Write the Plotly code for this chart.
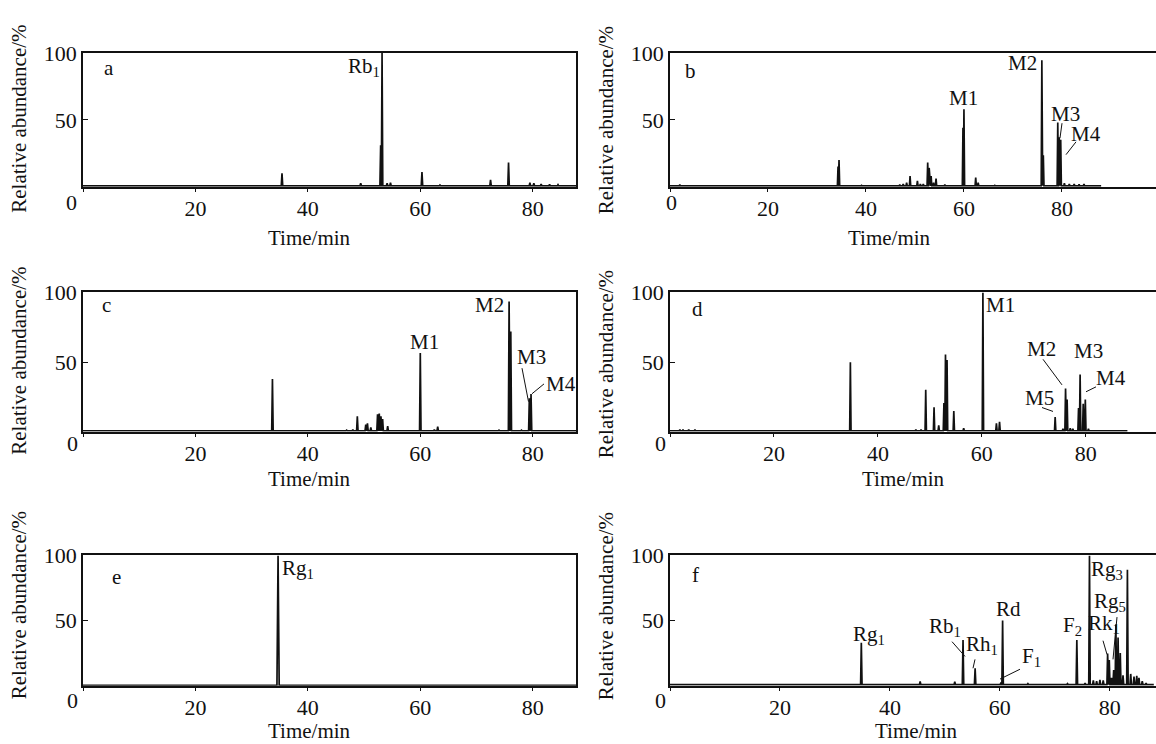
import plotly.graph_objects as go

W, H = 1156, 744

# ---------------- data (retention time / min, relative abundance / %) ----------------
a_rt = [35.4, 49.4, 52.95, 53.2, 54.1, 54.7, 60.3, 63.5, 72.5, 75.7, 79.5, 80.2, 81.5, 83.0, 84.5]
a_ab = [10, 2.5, 31, 100, 2.5, 3, 11, 1.2, 5, 18, 3, 2.5, 2, 1.8, 1.5]
a_base = 0.6

b_rt = [2.0, 34.3, 34.5, 39.1, 46.9, 47.6, 48.3, 49.0, 50.5, 51.1, 51.7, 52.6, 52.9, 53.3, 53.8,
        54.3, 56.1, 58.0, 59.8, 60.0, 62.4, 62.9, 66.3, 75.9, 76.2, 79.15, 79.45, 79.75,
        80.5, 81.5, 82.5, 83.5, 84.5]
b_ab = [1.5, 15, 20, 1, 1.5, 2, 3, 8, 4.4, 2, 2, 18, 14, 8, 3,
        6, 1.5, 1, 44, 58, 6.7, 3, 1, 94.6, 23.5, 48, 37, 35,
        2.5, 2, 2, 1.8, 2]
b_base = 0.6

c_rt = [33.7, 46.9, 48.0, 48.8, 50.3, 50.6, 51.2, 52.4, 52.7, 53.0, 53.3, 54.2, 60.0, 62.5,
        63.1, 74.0, 75.8, 76.1, 78.0, 79.4, 79.7]
c_ab = [37.7, 1, 1.5, 11, 5, 6, 3, 12.5, 13, 11, 9, 4, 56.5, 1.5,
        3.5, 1, 93.4, 72, 1, 24, 27]
c_base = 0.5

d_rt = [1.9, 2.5, 3.6, 4.8, 34.7, 47.3, 48.3, 49.2, 50.8, 51.7, 52.7, 53.0, 53.3, 54.6, 56.5,
        60.2, 62.8, 63.4, 74.1, 75.6, 76.1, 76.4, 77.0, 77.5, 78.6, 78.9, 79.5, 79.9, 80.5, 81.2]
d_ab = [1.5, 1.5, 1.5, 1.5, 49.8, 1.5, 1.5, 30, 17.5, 4.5, 20.5, 55.4, 51.5, 14.7, 2.5,
        100, 6, 7, 10.4, 2, 31, 23, 2.5, 2, 17, 41, 20, 23, 2, 1]
d_base = 0.5

e_rt = [34.7]
e_ab = [100]
e_base = 0.3

f_rt = [34.8, 45.5, 51.8, 53.3, 55.5, 60.2, 60.5, 65.1, 70.7, 72.3, 74.0, 75.5, 76.3, 77.0,
        77.6, 78.2, 78.8, 79.6, 79.9, 80.3, 80.7, 81.1, 81.5, 81.9, 82.4, 83.2, 83.8, 84.4,
        84.9, 85.3, 85.9, 86.6, 87.3]
f_ab = [33, 3.3, 3, 35, 13.3, 2.5, 50, 1.5, 1, 1.5, 35, 2, 100, 4,
        3.5, 4.5, 4, 24.7, 19.7, 6, 12, 47, 37, 25, 8, 89, 9, 7,
        7.5, 6, 3.5, 2, 1]
f_base = 0.8

x_tick_vals = [20, 40, 60, 80]
x_tick_text = ["20", "40", "60", "80"]
y_tick_vals = [50, 100]
y_tick_text = ["50", "100"]

end_time = 88.0

panels = [
    ("a", a_rt, a_ab, a_base, 0.13),
    ("b", b_rt, b_ab, b_base, 0.13),
    ("c", c_rt, c_ab, c_base, 0.13),
    ("d", d_rt, d_ab, d_base, 0.13),
    ("e", e_rt, e_ab, e_base, 0.2),
    ("f", f_rt, f_ab, f_base, 0.13),
]

x_ranges = {"a": 87.7, "b": 99.2, "c": 87.7, "d": 93.5, "e": 87.7, "f": 88.4}


def px_x(x):
    return x / W


def px_y(y):
    return 1 - y / H


LEFT = [px_x(83), px_x(576)]
RIGHT = [px_x(670), 1.0]
ROWS = [
    [px_y(177.5), px_y(41.7)],
    [px_y(426.5), px_y(285)],
    [px_y(684.7), px_y(552.3)],
]

FONT = "Liberation Serif, Times New Roman, serif"
INK = "#111111"

fig = go.Figure()


def chromatogram(rt, ab, base, w):
    xs, ys = [0.0], [base]
    for t, h in sorted(zip(rt, ab)):
        xs += [t - w, t, t + w]
        ys += [base, h, base]
    xs.append(end_time)
    ys.append(base)
    return xs, ys


layout_axes = {}
for i, (name, rt, ab, base, w) in enumerate(panels):
    idx = i + 1
    col = i % 2
    row = i // 2
    xs, ys = chromatogram(rt, ab, base, w)
    xname = "x" if idx == 1 else f"x{idx}"
    yname = "y" if idx == 1 else f"y{idx}"
    fig.add_trace(go.Scatter(x=xs, y=ys, mode="lines", xaxis=xname, yaxis=yname,
                             line=dict(color=INK, width=1.7), showlegend=False,
                             hoverinfo="skip"))
    xkey = "xaxis" if idx == 1 else f"xaxis{idx}"
    ykey = "yaxis" if idx == 1 else f"yaxis{idx}"
    layout_axes[xkey] = dict(
        domain=LEFT if col == 0 else RIGHT, anchor=yname, range=[0, x_ranges[name]],
        tickvals=x_tick_vals, ticktext=x_tick_text,
        ticks="outside", ticklen=4, tickcolor=INK, tickwidth=1.2,
        minor=dict(tickvals=[0], ticks="outside", ticklen=4, tickcolor=INK, tickwidth=1.2),
        ticklabelstandoff=-3,
        showline=True, linecolor=INK, linewidth=1.6, mirror=True,
        showgrid=False, zeroline=False,
        tickfont=dict(family=FONT, size=22, color=INK), fixedrange=True,
    )
    layout_axes[ykey] = dict(
        domain=ROWS[row], anchor=xname, range=[0, 100],
        tickvals=y_tick_vals, ticktext=y_tick_text,
        ticks="inside", ticklen=5, tickcolor=INK, tickwidth=1.2,
        showline=True, linecolor=INK, linewidth=1.6, mirror=(col == 0),
        showgrid=False, zeroline=False,
        tickfont=dict(family=FONT, size=22, color=INK), fixedrange=True,
    )

fig.update_layout(**layout_axes)

ann = []


def text(x, y, s, anchor="center", size=21, angle=0):
    ann.append(dict(x=px_x(x), y=px_y(y), xref="paper", yref="paper", text=s,
                    showarrow=False, xanchor=anchor, yanchor="middle", textangle=angle,
                    font=dict(family=FONT, size=size, color=INK)))


# axis titles and corner zeros
ytitle = "Relative abundance/%"
for (x, y) in [(19, 108.5), (606, 110), (19, 354.5), (606, 358), (19, 603), (606, 604)]:
    text(x, y, ytitle, angle=-90)
for (x, y) in [(309, 230), (889, 230), (309, 475), (903, 475), (309, 731), (916, 731)]:
    text(x, y, "Time/min")
for (x, y) in [(71, 193.3), (671, 193.3), (72, 439), (660, 439), (72, 700), (660, 700)]:
    text(x, y, "0", size=22)

# panel letters
for (x, y, s) in [(109, 57, "a"), (690, 60, "b"), (106.5, 298, "c"), (697, 302, "d"),
                  (116.5, 574, "e"), (695, 572, "f")]:
    text(x, y, s)

# peak labels
peak_labels = [
    (364, 56, "Rb<sub>1</sub>"),
    (963, 87, "M1"), (1022, 52, "M2"), (1065, 104, "M3"), (1086, 124, "M4"),
    (424, 335, "M1"), (489, 298, "M2"), (531, 351, "M3"), (561, 378, "M4"),
    (1000, 298, "M1"), (1041, 343, "M2"), (1088, 345, "M3"), (1111, 372, "M4"), (1039, 392, "M5"),
    (298, 566, "Rg<sub>1</sub>"),
    (869, 633, "Rg<sub>1</sub>"), (945, 625, "Rb<sub>1</sub>"), (982, 643, "Rh<sub>1</sub>"),
    (1008, 607, "Rd"), (1031, 656, "F<sub>1</sub>"), (1072, 624, "F<sub>2</sub>"),
    (1107, 567, "Rg<sub>3</sub>"), (1110, 600, "Rg<sub>5</sub>"), (1104, 622, "Rk<sub>1</sub>"),
]
for x, y, s in peak_labels:
    text(x, y, s)

# leader lines (pixel coordinates)
leaders = [
    (1062, 113, 1060, 128), (1076, 132, 1066, 145),
    (522, 362, 528.5, 396), (544, 378, 532, 388),
    (1043, 353, 1062, 379), (1042, 402, 1053, 406), (1096, 381, 1086, 386),
    (952, 640, 965, 655), (975, 658, 973, 667), (1020, 668, 1000, 678),
    (1103, 639, 1107, 653), (1117, 615, 1113, 658),
]
shapes = []
for x0, y0, x1, y1 in leaders:
    shapes.append(dict(type="line", xref="paper", yref="paper",
                       x0=px_x(x0), y0=px_y(y0), x1=px_x(x1), y1=px_y(y1),
                       line=dict(color=INK, width=1)))

fig.update_layout(
    width=W, height=H, margin=dict(l=0, r=0, t=0, b=0),
    paper_bgcolor="white", plot_bgcolor="white",
    annotations=ann, shapes=shapes, showlegend=False,
    font=dict(family=FONT, size=21, color=INK),
)

fig.write_html("out.html", config={"displayModeBar": False},
               post_script="document.body.style.margin='0';document.body.style.overflow='hidden';")
